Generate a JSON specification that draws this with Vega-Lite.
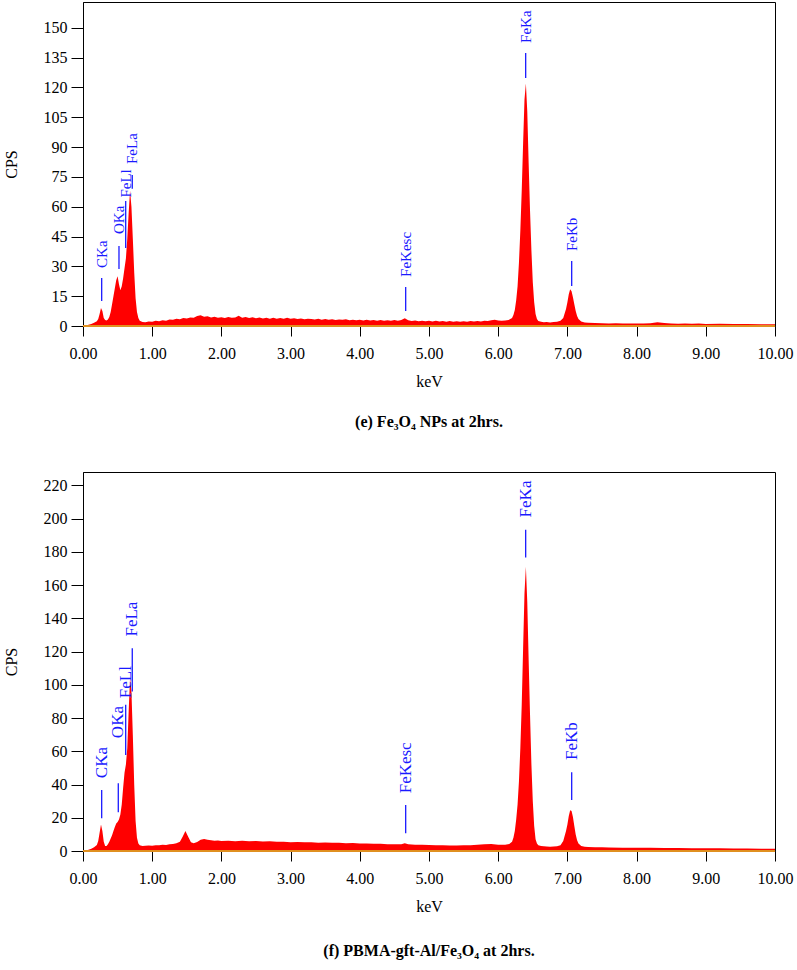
{
  "$schema": "https://vega.github.io/schema/vega-lite/v6.json",
  "background": "white",
  "padding": {"left": 2, "top": 1, "right": 5, "bottom": 5},
  "config": {
    "font": "Liberation Serif, Times New Roman, DejaVu Serif, serif",
    "view": {"stroke": "#000000", "strokeWidth": 1},
    "concat": {"spacing": 40},
    "axis": {
      "grid": false,
      "labelFont": "Liberation Serif, Times New Roman, DejaVu Serif, serif",
      "labelFontSize": 16,
      "labelColor": "#000000",
      "titleFont": "Liberation Serif, Times New Roman, DejaVu Serif, serif",
      "titleFontSize": 16,
      "titleFontWeight": "normal",
      "titleColor": "#000000",
      "domainColor": "#000000",
      "tickColor": "#000000",
      "labelFlush": false,
      "labelOverlap": false,
      "labelBound": false
    },
    "axisX": {"tickSize": 10, "labelPadding": 9, "titlePadding": 12},
    "axisY": {"tickSize": 12, "labelPadding": 4, "titlePadding": 24},
    "title": {"font": "Liberation Serif, Times New Roman, DejaVu Serif, serif", "fontSize": 16, "fontWeight": "bold", "color": "#000000"}
  },
  "datasets": {
    "e": [
      {"k":0.00,"c":0},{"k":0.04,"c":0.3},{"k":0.08,"c":0.6},{"k":0.12,"c":1.0},{"k":0.16,"c":1.6},{"k":0.20,"c":2.4},{"k":0.22,"c":3.5},{"k":0.24,"c":6.0},{"k":0.26,"c":9.0},{"k":0.28,"c":7.5},{"k":0.30,"c":4.0},{"k":0.32,"c":3.0},{"k":0.34,"c":2.8},{"k":0.36,"c":3.3},{"k":0.38,"c":4.5},{"k":0.40,"c":7.0},{"k":0.42,"c":11},{"k":0.44,"c":15},{"k":0.46,"c":19},{"k":0.48,"c":23},{"k":0.50,"c":25},{"k":0.52,"c":21},{"k":0.54,"c":18},{"k":0.56,"c":20},{"k":0.58,"c":24},{"k":0.60,"c":29},{"k":0.62,"c":34},{"k":0.64,"c":44},{"k":0.66,"c":57},{"k":0.68,"c":68},{"k":0.70,"c":60},{"k":0.72,"c":44},{"k":0.74,"c":27},{"k":0.76,"c":14},{"k":0.78,"c":7},{"k":0.80,"c":4},{"k":0.82,"c":2.6},{"k":0.86,"c":2.0},{"k":0.90,"c":1.9},{"k":0.95,"c":2.3},
      {"k":1.00,"c":2.2},{"k":1.05,"c":2.6},{"k":1.10,"c":2.4},{"k":1.15,"c":2.9},{"k":1.20,"c":2.7},{"k":1.25,"c":3.3},{"k":1.30,"c":3.1},{"k":1.35,"c":3.6},{"k":1.40,"c":3.4},{"k":1.45,"c":4.0},{"k":1.50,"c":3.8},{"k":1.55,"c":4.3},{"k":1.60,"c":4.1},{"k":1.65,"c":5.0},{"k":1.70,"c":5.4},{"k":1.75,"c":4.7},{"k":1.80,"c":4.9},{"k":1.85,"c":4.3},{"k":1.90,"c":4.6},{"k":1.95,"c":4.2},
      {"k":2.00,"c":4.4},{"k":2.05,"c":4.0},{"k":2.10,"c":4.5},{"k":2.15,"c":4.1},{"k":2.20,"c":4.3},{"k":2.25,"c":5.2},{"k":2.30,"c":4.2},{"k":2.35,"c":4.5},{"k":2.40,"c":4.0},{"k":2.45,"c":4.4},{"k":2.50,"c":3.9},{"k":2.55,"c":4.3},{"k":2.60,"c":3.8},{"k":2.65,"c":4.1},{"k":2.70,"c":3.7},{"k":2.75,"c":4.2},{"k":2.80,"c":3.6},{"k":2.85,"c":4.0},{"k":2.90,"c":3.7},{"k":2.95,"c":4.1},
      {"k":3.00,"c":3.6},{"k":3.05,"c":3.9},{"k":3.10,"c":3.5},{"k":3.15,"c":3.8},{"k":3.20,"c":3.4},{"k":3.25,"c":3.7},{"k":3.30,"c":3.5},{"k":3.35,"c":3.3},{"k":3.40,"c":3.6},{"k":3.45,"c":3.2},{"k":3.50,"c":3.5},{"k":3.55,"c":3.1},{"k":3.60,"c":3.4},{"k":3.65,"c":3.0},{"k":3.70,"c":3.3},{"k":3.75,"c":3.1},{"k":3.80,"c":3.4},{"k":3.85,"c":2.9},{"k":3.90,"c":3.2},{"k":3.95,"c":2.9},
      {"k":4.00,"c":3.2},{"k":4.05,"c":2.8},{"k":4.10,"c":3.1},{"k":4.15,"c":2.8},{"k":4.20,"c":3.0},{"k":4.25,"c":2.7},{"k":4.30,"c":3.0},{"k":4.35,"c":2.6},{"k":4.40,"c":2.9},{"k":4.45,"c":2.7},{"k":4.50,"c":3.0},{"k":4.55,"c":2.6},{"k":4.60,"c":3.0},{"k":4.65,"c":3.9},{"k":4.70,"c":2.9},{"k":4.75,"c":2.5},{"k":4.80,"c":2.8},{"k":4.85,"c":2.4},{"k":4.90,"c":2.7},{"k":4.95,"c":2.4},
      {"k":5.00,"c":2.6},{"k":5.05,"c":2.3},{"k":5.10,"c":2.6},{"k":5.15,"c":2.3},{"k":5.20,"c":2.5},{"k":5.25,"c":2.2},{"k":5.30,"c":2.5},{"k":5.35,"c":2.2},{"k":5.40,"c":2.4},{"k":5.45,"c":2.1},{"k":5.50,"c":2.4},{"k":5.55,"c":2.2},{"k":5.60,"c":2.5},{"k":5.65,"c":2.3},{"k":5.70,"c":2.5},{"k":5.75,"c":2.3},{"k":5.80,"c":2.6},{"k":5.85,"c":2.5},{"k":5.90,"c":2.9},{"k":5.95,"c":3.2},
      {"k":6.00,"c":2.8},{"k":6.05,"c":2.6},{"k":6.10,"c":2.8},{"k":6.15,"c":3.0},{"k":6.20,"c":4},{"k":6.22,"c":5.5},{"k":6.24,"c":8},{"k":6.26,"c":13},{"k":6.28,"c":20},{"k":6.30,"c":32},{"k":6.32,"c":48},{"k":6.34,"c":68},{"k":6.36,"c":92},{"k":6.38,"c":114},{"k":6.40,"c":122},{"k":6.42,"c":108},{"k":6.44,"c":82},{"k":6.46,"c":58},{"k":6.48,"c":38},{"k":6.50,"c":22},{"k":6.52,"c":12},{"k":6.54,"c":6},{"k":6.56,"c":3.5},{"k":6.58,"c":2.5},{"k":6.62,"c":2.1},{"k":6.66,"c":1.9},{"k":6.70,"c":2.0},{"k":6.75,"c":1.8},{"k":6.80,"c":2.0},{"k":6.85,"c":2.1},{"k":6.90,"c":2.6},{"k":6.94,"c":4.0},{"k":6.98,"c":8.5},
      {"k":7.00,"c":12},{"k":7.02,"c":16},{"k":7.04,"c":18.5},{"k":7.06,"c":17.5},{"k":7.08,"c":14.5},{"k":7.10,"c":11},{"k":7.12,"c":7.5},{"k":7.14,"c":5},{"k":7.16,"c":3.5},{"k":7.20,"c":2.3},{"k":7.25,"c":1.8},{"k":7.30,"c":1.6},{"k":7.40,"c":1.5},{"k":7.50,"c":1.4},{"k":7.60,"c":1.3},{"k":7.70,"c":1.4},{"k":7.80,"c":1.2},{"k":7.90,"c":1.3},
      {"k":8.00,"c":1.2},{"k":8.10,"c":1.3},{"k":8.20,"c":1.4},{"k":8.30,"c":1.9},{"k":8.40,"c":1.5},{"k":8.50,"c":1.2},{"k":8.60,"c":1.1},{"k":8.70,"c":1.2},{"k":8.80,"c":1.1},{"k":8.90,"c":1.2},{"k":9.00,"c":1.0},{"k":9.20,"c":1.1},{"k":9.40,"c":1.0},{"k":9.60,"c":1.0},{"k":9.80,"c":0.9},{"k":10.00,"c":0.9}
    ],
    "f": [
      {"k":0.00,"c":0},{"k":0.04,"c":0.3},{"k":0.08,"c":0.8},{"k":0.12,"c":1.3},{"k":0.16,"c":2.2},{"k":0.20,"c":3.6},{"k":0.22,"c":6},{"k":0.24,"c":11},{"k":0.26,"c":16},{"k":0.28,"c":12},{"k":0.30,"c":5.5},{"k":0.32,"c":3},{"k":0.34,"c":3},{"k":0.36,"c":4},{"k":0.38,"c":5.5},{"k":0.40,"c":7.5},{"k":0.42,"c":9.5},{"k":0.44,"c":12},{"k":0.46,"c":14.5},{"k":0.48,"c":16.5},{"k":0.50,"c":17.5},{"k":0.52,"c":19},{"k":0.54,"c":22},{"k":0.56,"c":28},{"k":0.58,"c":38},{"k":0.60,"c":47},{"k":0.62,"c":52},{"k":0.64,"c":62},{"k":0.66,"c":84},{"k":0.68,"c":104},{"k":0.70,"c":96},{"k":0.72,"c":70},{"k":0.74,"c":40},{"k":0.76,"c":18},{"k":0.78,"c":8},{"k":0.80,"c":4.5},{"k":0.82,"c":3.4},{"k":0.86,"c":3.0},{"k":0.90,"c":3.1},{"k":0.95,"c":3.3},
      {"k":1.00,"c":3.2},{"k":1.05,"c":3.5},{"k":1.10,"c":3.4},{"k":1.15,"c":3.7},{"k":1.20,"c":3.6},{"k":1.25,"c":4.0},{"k":1.30,"c":4.2},{"k":1.35,"c":4.6},{"k":1.40,"c":5.5},{"k":1.44,"c":8.5},{"k":1.48,"c":12},{"k":1.52,"c":8.5},{"k":1.56,"c":5.2},{"k":1.60,"c":4.6},{"k":1.65,"c":5.4},{"k":1.70,"c":6.8},{"k":1.75,"c":7.2},{"k":1.80,"c":6.7},{"k":1.85,"c":6.4},{"k":1.90,"c":6.2},{"k":1.95,"c":6.3},
      {"k":2.00,"c":6.0},{"k":2.10,"c":6.2},{"k":2.20,"c":5.9},{"k":2.30,"c":6.1},{"k":2.40,"c":5.8},{"k":2.50,"c":6.0},{"k":2.60,"c":5.7},{"k":2.70,"c":5.8},{"k":2.80,"c":5.5},{"k":2.90,"c":5.6},{"k":3.00,"c":5.3},{"k":3.10,"c":5.4},{"k":3.20,"c":5.2},{"k":3.30,"c":5.3},{"k":3.40,"c":5.0},{"k":3.50,"c":5.1},{"k":3.60,"c":4.9},{"k":3.70,"c":4.9},{"k":3.80,"c":4.7},{"k":3.90,"c":4.8},
      {"k":4.00,"c":4.5},{"k":4.10,"c":4.5},{"k":4.20,"c":4.3},{"k":4.30,"c":4.3},{"k":4.40,"c":4.1},{"k":4.50,"c":4.0},{"k":4.60,"c":4.1},{"k":4.65,"c":4.6},{"k":4.70,"c":4.0},{"k":4.80,"c":3.8},{"k":4.90,"c":3.7},{"k":5.00,"c":3.6},{"k":5.10,"c":3.5},{"k":5.20,"c":3.4},{"k":5.30,"c":3.3},{"k":5.40,"c":3.3},{"k":5.50,"c":3.4},{"k":5.60,"c":3.5},{"k":5.70,"c":3.7},{"k":5.80,"c":4.0},{"k":5.90,"c":4.2},
      {"k":6.00,"c":3.8},{"k":6.10,"c":3.7},{"k":6.16,"c":4.2},{"k":6.20,"c":5.5},{"k":6.22,"c":8},{"k":6.24,"c":12},{"k":6.26,"c":19},{"k":6.28,"c":28},{"k":6.30,"c":42},{"k":6.32,"c":62},{"k":6.34,"c":88},{"k":6.36,"c":122},{"k":6.38,"c":155},{"k":6.40,"c":171},{"k":6.42,"c":150},{"k":6.44,"c":115},{"k":6.46,"c":82},{"k":6.48,"c":52},{"k":6.50,"c":30},{"k":6.52,"c":15},{"k":6.54,"c":7},{"k":6.56,"c":4.5},{"k":6.58,"c":3.5},{"k":6.62,"c":3.0},{"k":6.66,"c":2.8},{"k":6.70,"c":2.7},{"k":6.75,"c":2.6},{"k":6.80,"c":2.7},{"k":6.85,"c":2.9},{"k":6.90,"c":3.5},{"k":6.94,"c":6},{"k":6.98,"c":12},
      {"k":7.00,"c":16},{"k":7.02,"c":21},{"k":7.04,"c":24.5},{"k":7.06,"c":24},{"k":7.08,"c":20.5},{"k":7.10,"c":15},{"k":7.12,"c":10},{"k":7.14,"c":6.5},{"k":7.16,"c":4.5},{"k":7.20,"c":3.0},{"k":7.25,"c":2.6},{"k":7.30,"c":2.4},{"k":7.40,"c":2.3},{"k":7.50,"c":2.2},{"k":7.60,"c":2.1},{"k":7.80,"c":2.0},{"k":8.00,"c":2.0},{"k":8.20,"c":1.9},{"k":8.40,"c":1.8},{"k":8.60,"c":1.8},{"k":8.80,"c":1.7},{"k":9.00,"c":1.6},{"k":9.20,"c":1.6},{"k":9.40,"c":1.5},{"k":9.60,"c":1.5},{"k":9.80,"c":1.4},{"k":10.00,"c":1.4}
    ],
    "le": [
      {"n":"CKa","k":0.27,"a":12.6,"b":24.2,"t":29.2},
      {"n":"OKa","k":0.52,"a":28.7,"b":40.3,"t":46.3},
      {"n":"FeLl","k":0.617,"a":39.3,"b":62.9,"t":64.6},
      {"n":"FeLa","k":0.712,"a":69,"b":76,"t":81.5},
      {"n":"FeKesc","k":4.663,"a":7.5,"b":19.6,"t":24.7},
      {"n":"FeKa","k":6.397,"a":124.8,"b":137.4,"t":142.4},
      {"n":"FeKb","k":7.062,"a":20.1,"b":32.7,"t":37.7}
    ],
    "lf": [
      {"n":"CKa","k":0.27,"a":19.7,"b":36.7,"t":43.8},
      {"n":"OKa","k":0.51,"a":23.3,"b":40.8,"t":67.9},
      {"n":"FeLl","k":0.617,"a":57.8,"b":88,"t":91.9},
      {"n":"FeLa","k":0.712,"a":96,"b":122,"t":129},
      {"n":"FeKesc","k":4.663,"a":10.7,"b":27.7,"t":34.7},
      {"n":"FeKa","k":6.397,"a":176.6,"b":193.3,"t":200.7},
      {"n":"FeKb","k":7.062,"a":30.7,"b":47.4,"t":54.8}
    ]
  },
  "vconcat": [
    {
      "width": 692,
      "height": 324,
      "title": {"text": "(e) Fe₃O₄ NPs at 2hrs.", "orient": "bottom", "anchor": "middle", "offset": 25},
      "layer": [
        {
          "data": {"name": "e"},
          "mark": {"type": "area", "color": "#ff0000", "interpolate": "linear"},
          "encoding": {
            "x": {"field": "k", "type": "quantitative", "title": "keV", "scale": {"domain": [0, 10], "nice": false}, "axis": {"values": [0,1,2,3,4,5,6,7,8,9,10], "format": ".2f"}},
            "y": {"field": "c", "type": "quantitative", "title": "CPS", "scale": {"domain": [0, 163], "nice": false}, "axis": {"values": [0,15,30,45,60,75,90,105,120,135,150]}}
          }
        },
        {
          "data": {"values": [{}]},
          "mark": {"type": "rule", "color": "#e09020", "strokeWidth": 2},
          "encoding": {"y": {"datum": 0, "type": "quantitative", "title": "CPS", "axis": {"values": [0,15,30,45,60,75,90,105,120,135,150]}}}
        },
        {
          "data": {"name": "le"},
          "mark": {"type": "rule", "color": "#1a1aff", "strokeWidth": 1.3},
          "encoding": {
            "x": {"field": "k", "type": "quantitative", "title": "keV", "axis": {"values": [0,1,2,3,4,5,6,7,8,9,10], "format": ".2f"}},
            "y": {"field": "a", "type": "quantitative", "title": "CPS", "axis": {"values": [0,15,30,45,60,75,90,105,120,135,150]}},
            "y2": {"field": "b"}
          }
        },
        {
          "data": {"name": "le"},
          "mark": {"type": "text", "color": "#1a1aff", "angle": 270, "align": "left", "baseline": "middle", "fontSize": 15},
          "encoding": {
            "x": {"field": "k", "type": "quantitative", "title": "keV", "axis": {"values": [0,1,2,3,4,5,6,7,8,9,10], "format": ".2f"}},
            "y": {"field": "t", "type": "quantitative", "title": "CPS", "axis": {"values": [0,15,30,45,60,75,90,105,120,135,150]}},
            "text": {"field": "n"}
          }
        }
      ]
    },
    {
      "width": 692,
      "height": 379,
      "title": {"text": "(f) PBMA-gft-Al/Fe₃O₄ at 2hrs.", "orient": "bottom", "anchor": "middle", "offset": 29},
      "layer": [
        {
          "data": {"name": "f"},
          "mark": {"type": "area", "color": "#ff0000", "interpolate": "linear"},
          "encoding": {
            "x": {"field": "k", "type": "quantitative", "title": "keV", "scale": {"domain": [0, 10], "nice": false}, "axis": {"values": [0,1,2,3,4,5,6,7,8,9,10], "format": ".2f"}},
            "y": {"field": "c", "type": "quantitative", "title": "CPS", "scale": {"domain": [0, 228], "nice": false}, "axis": {"values": [0,20,40,60,80,100,120,140,160,180,200,220]}}
          }
        },
        {
          "data": {"values": [{}]},
          "mark": {"type": "rule", "color": "#e09020", "strokeWidth": 2},
          "encoding": {"y": {"datum": 0, "type": "quantitative", "title": "CPS", "axis": {"values": [0,20,40,60,80,100,120,140,160,180,200,220]}}}
        },
        {
          "data": {"name": "lf"},
          "mark": {"type": "rule", "color": "#1a1aff", "strokeWidth": 1.3},
          "encoding": {
            "x": {"field": "k", "type": "quantitative", "title": "keV", "axis": {"values": [0,1,2,3,4,5,6,7,8,9,10], "format": ".2f"}},
            "y": {"field": "a", "type": "quantitative", "title": "CPS", "axis": {"values": [0,20,40,60,80,100,120,140,160,180,200,220]}},
            "y2": {"field": "b"}
          }
        },
        {
          "data": {"name": "lf"},
          "mark": {"type": "text", "color": "#1a1aff", "angle": 270, "align": "left", "baseline": "middle", "fontSize": 17},
          "encoding": {
            "x": {"field": "k", "type": "quantitative", "title": "keV", "axis": {"values": [0,1,2,3,4,5,6,7,8,9,10], "format": ".2f"}},
            "y": {"field": "t", "type": "quantitative", "title": "CPS", "axis": {"values": [0,20,40,60,80,100,120,140,160,180,200,220]}},
            "text": {"field": "n"}
          }
        }
      ]
    }
  ]
}
